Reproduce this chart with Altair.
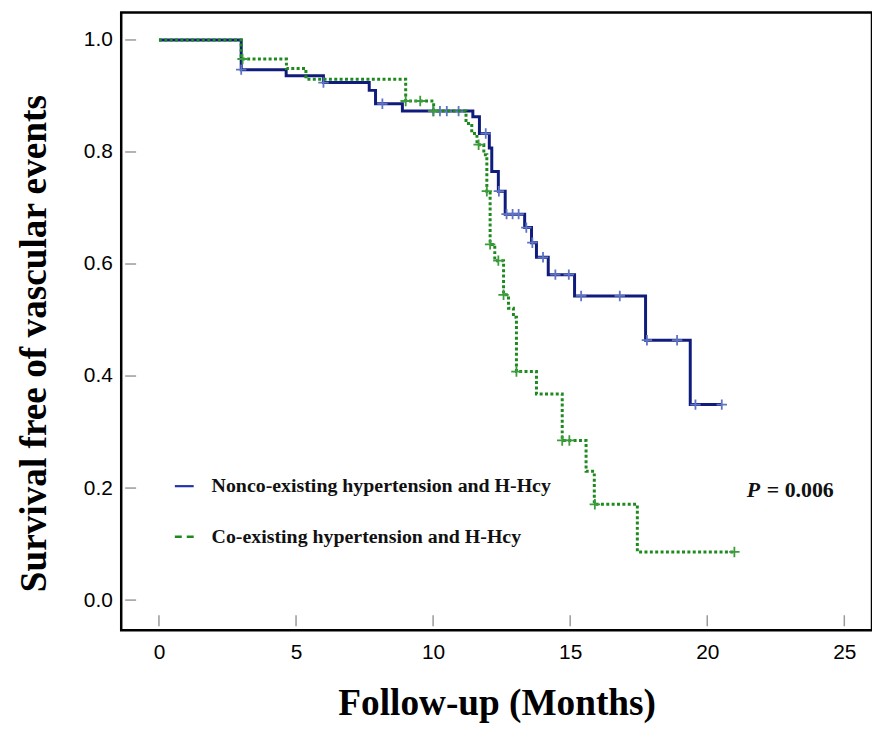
import altair as alt
import pandas as pd

# ---- data ----
blue_time = [0, 3.0, 4.64, 6.0, 7.67, 7.9, 8.88, 11.45, 11.69, 12.05, 12.14, 12.38, 12.63,
             13.34, 13.59, 13.77, 14.2, 15.16, 17.75, 19.38, 20.53]
blue_surv = [1.0, 0.947, 0.936, 0.924, 0.910, 0.886, 0.873, 0.863, 0.833, 0.807, 0.765, 0.730,
             0.689, 0.665, 0.638, 0.612, 0.581, 0.543, 0.464, 0.349, 0.349]
blue_cens_time = [3.0, 6.0, 8.15, 10.0, 10.25, 10.5, 10.93, 11.92, 12.4, 12.68, 12.9, 13.12,
                  13.4, 13.62, 14.01, 14.46, 14.95, 15.4, 16.81, 17.8, 18.9, 19.57, 20.53]
blue_cens_surv = [0.947, 0.924, 0.886, 0.873, 0.873, 0.873, 0.873, 0.833, 0.730, 0.689, 0.689,
                  0.689, 0.665, 0.638, 0.612, 0.581, 0.581, 0.543, 0.543, 0.464, 0.464, 0.349,
                  0.349]

green_time = [0, 3.0, 4.65, 5.36, 9.0, 10.02, 11.2, 11.41, 11.6, 11.85, 11.96, 12.08, 12.25,
              12.57, 12.75, 12.93, 13.04, 13.77, 14.71, 15.58, 15.88, 17.45, 20.99]
green_surv = [1.0, 0.966, 0.949, 0.930, 0.891, 0.873, 0.851, 0.833, 0.813, 0.795, 0.730, 0.635,
              0.606, 0.545, 0.521, 0.505, 0.408, 0.368, 0.285, 0.230, 0.171, 0.086, 0.086]
green_cens_time = [3.05, 9.0, 9.53, 10.02, 11.66, 11.96, 12.08, 12.38, 12.57, 13.04, 14.71,
                   14.97, 15.9, 20.99]
green_cens_surv = [0.966, 0.891, 0.891, 0.873, 0.813, 0.730, 0.635, 0.606, 0.545, 0.408, 0.285,
                   0.285, 0.171, 0.086]

x_ticks = [0, 5, 10, 15, 20, 25]
y_ticks = [0.0, 0.2, 0.4, 0.6, 0.8, 1.0]

legend_labels = ["Nonco-existing hypertension and H-Hcy", "Co-existing hypertension and H-Hcy"]
p_label = "= 0.006"

# ---- styling ----
BLUE = "#101c7c"
BLUE_C = "#5f74c4"
GREEN = "#1e8a1e"
GREEN_C = "#3c9c3c"
PLUS = "M-1,0H1M0,-1V1"

W, H = 756, 622
x_scale = alt.Scale(domain=[-1.377, 26.01], nice=False, zero=False)
y_scale = alt.Scale(domain=[-0.0537, 1.0491], nice=False, zero=False)

x_axis = alt.Axis(values=x_ticks, title="Follow-up (Months)", labelFont="Liberation Sans",
                  labelFontSize=21, labelColor="black", labelPadding=12, ticks=False,
                  domain=False, grid=False, titleFont="Liberation Serif", titleFontSize=37.5,
                  titleFontWeight="bold", titleColor="black", titleY=85,
                  titleBaseline="alphabetic")
y_axis = alt.Axis(values=y_ticks, format=".1f", title="Survival free of vascular events",
                  labelFont="Liberation Sans", labelFontSize=21, labelColor="black",
                  labelPadding=9, ticks=False, domain=False, grid=False,
                  titleFont="Liberation Serif", titleFontSize=37.5, titleFontWeight="bold",
                  titleColor="black", titleX=-87, titleY=333, titleAngle=-90,
                  titleAlign="center", titleBaseline="middle")


def X(f="t"):
    return alt.X(f"{f}:Q", scale=x_scale, axis=x_axis)


def Y(f="s"):
    return alt.Y(f"{f}:Q", scale=y_scale, axis=y_axis)


blue_df = pd.DataFrame({"t": blue_time, "s": blue_surv})
blue_c_df = pd.DataFrame({"t": blue_cens_time, "s": blue_cens_surv})
green_df = pd.DataFrame({"t": green_time, "s": green_surv})
green_c_df = pd.DataFrame({"t": green_cens_time, "s": green_cens_surv})
xt_df = pd.DataFrame({"t": x_ticks})
yt_df = pd.DataFrame({"s": y_ticks})
one = alt.Data(values=[{}])

xticks = alt.Chart(xt_df).mark_rule(color="#9a9a9a", strokeWidth=1.5).encode(
    x=X(), y=alt.value(607), y2=alt.value(618))
yticks = alt.Chart(yt_df).mark_rule(color="#9a9a9a", strokeWidth=1.5).encode(
    y=Y(), x=alt.value(4), x2=alt.value(15))

blue_line = alt.Chart(blue_df).mark_line(interpolate="step-after", color=BLUE,
                                         strokeWidth=3).encode(x=X(), y=Y())
blue_cens = alt.Chart(blue_c_df).mark_point(shape=PLUS, filled=False, color=BLUE_C, size=110,
                                            strokeWidth=1.8, opacity=1).encode(x=X(), y=Y())
green_line = alt.Chart(green_df).mark_line(interpolate="step-after", color=GREEN,
                                           strokeWidth=3, strokeDash=[3, 2.4]).encode(x=X(), y=Y())
green_cens = alt.Chart(green_c_df).mark_point(shape=PLUS, filled=False, color=GREEN_C, size=110,
                                              strokeWidth=1.8, opacity=1).encode(x=X(), y=Y())

leg_sym1 = alt.Chart(one).mark_rule(color="#2233aa", strokeWidth=2.2).encode(
    x=alt.value(54), x2=alt.value(73), y=alt.value(477))
leg_sym2 = alt.Chart(one).mark_rule(color=GREEN, strokeWidth=2.5, strokeDash=[7, 5]).encode(
    x=alt.value(54), x2=alt.value(73), y=alt.value(528))
leg_txt1 = alt.Chart(one).mark_text(text=legend_labels[0], font="Liberation Serif",
                                    fontSize=20, fontWeight="bold", color="#111", align="left",
                                    baseline="middle").encode(x=alt.value(91), y=alt.value(477))
leg_txt2 = alt.Chart(one).mark_text(text=legend_labels[1], font="Liberation Serif",
                                    fontSize=20, fontWeight="bold", color="#111", align="left",
                                    baseline="middle").encode(x=alt.value(91), y=alt.value(528))
p_txt1 = alt.Chart(one).mark_text(text="P", font="Liberation Serif", fontSize=22,
                                  fontWeight="bold", fontStyle="italic", color="#111",
                                  align="left", baseline="middle").encode(
    x=alt.value(630), y=alt.value(481))
p_txt2 = alt.Chart(one).mark_text(text=p_label, font="Liberation Serif", fontSize=22,
                                  fontWeight="bold", color="#111", align="left",
                                  baseline="middle").encode(x=alt.value(650), y=alt.value(481))

chart = alt.layer(
    xticks, yticks, blue_line, blue_cens, green_line, green_cens,
    leg_sym1, leg_sym2, leg_txt1, leg_txt2, p_txt1, p_txt2
).properties(
    width=W, height=H,
    autosize=alt.AutoSizeParams(type="none"),
    padding={"left": 114, "top": 2, "right": 0, "bottom": 93},
).configure(
    background="white",
    view=alt.ViewConfig(stroke="black", strokeWidth=2.5),
)

chart.save("out.html", embed_options={"renderer": "svg", "actions": False})
